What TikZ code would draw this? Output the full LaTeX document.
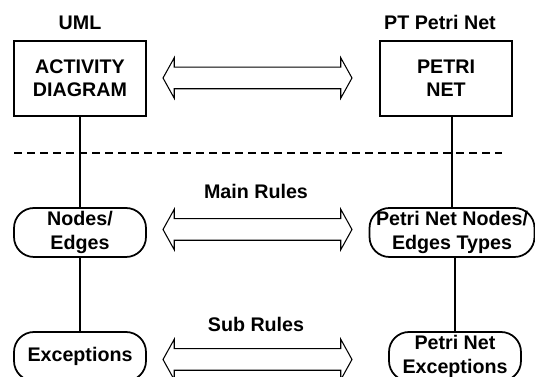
\documentclass[tikz,border=0pt]{standalone}
\usepackage{fontspec}
\setmainfont{Liberation Sans}
\usetikzlibrary{shapes.arrows, positioning}

\begin{document}
\begin{tikzpicture}[x=0.02cm, y=-0.02cm,
  every node/.style={font=\fontsize{11.2}{13.2}\selectfont\bfseries, align=center},
  box/.style={draw, line width=1.1pt, minimum width=2.64cm, minimum height=1.5cm, inner sep=0pt},
  pill/.style={draw, line width=1pt, rounded corners=0.4cm, minimum width=2.64cm,
    minimum height=0.98cm, inner sep=0pt},
  lbl/.style={inner sep=0pt},
  maparrow/.style={double arrow, draw, line width=0.6pt, minimum height=3.78cm,
    text height=0.41cm, text depth=0pt, inner sep=0pt,
    double arrow head extend=0.19cm, double arrow tip angle=122},
  link/.style={line width=0.7pt}
]
  \useasboundingbox (0,0) rectangle (535,377);

  % Top level
  \node[box] (act) at (80,78.5) {ACTIVITY\\DIAGRAM};
  \node[box] (petri) at (446,78.5) {PETRI\\NET};
  \node[lbl, above=0.2cm of act] (uml) {UML};
  \node[lbl, above=0.2cm of petri, xshift=-0.12cm] (ptnet) {PT Petri Net};
  \node[maparrow] (map1) at (257.5,78) {};

  % Separator
  \draw[line width=0.6pt, dash pattern=on 4.6pt off 2.8pt] (14,153) -- (502,153);

  % Main rules
  \node[pill] (nodes) at (80,232.5) {Nodes/\\Edges};
  \node[pill, minimum width=3.3cm] (pnnodes) at (452,232.5) {Petri Net Nodes/\\Edges Types};
  \node[maparrow] (map2) at (257.5,229.5) {};
  \node[lbl] (mainrules) at (256,191) {Main Rules};

  % Sub rules
  \node[pill] (exc) at (80,356.5) {Exceptions};
  \node[pill] (pnexc) at (455,356.5) {Petri Net\\Exceptions};
  \node[maparrow] (map3) at (257.5,359.5) {};
  \node[lbl] (subrules) at (256,324) {Sub Rules};

  % Links
  \draw[link] (act) -- (nodes);
  \draw[link] (nodes) -- (exc);
  \draw[link] (pnnodes.north |- petri.south) -- (pnnodes.north);
  \draw[link] (pnexc.north |- pnnodes.south) -- (pnexc.north);
\end{tikzpicture}
\end{document}
